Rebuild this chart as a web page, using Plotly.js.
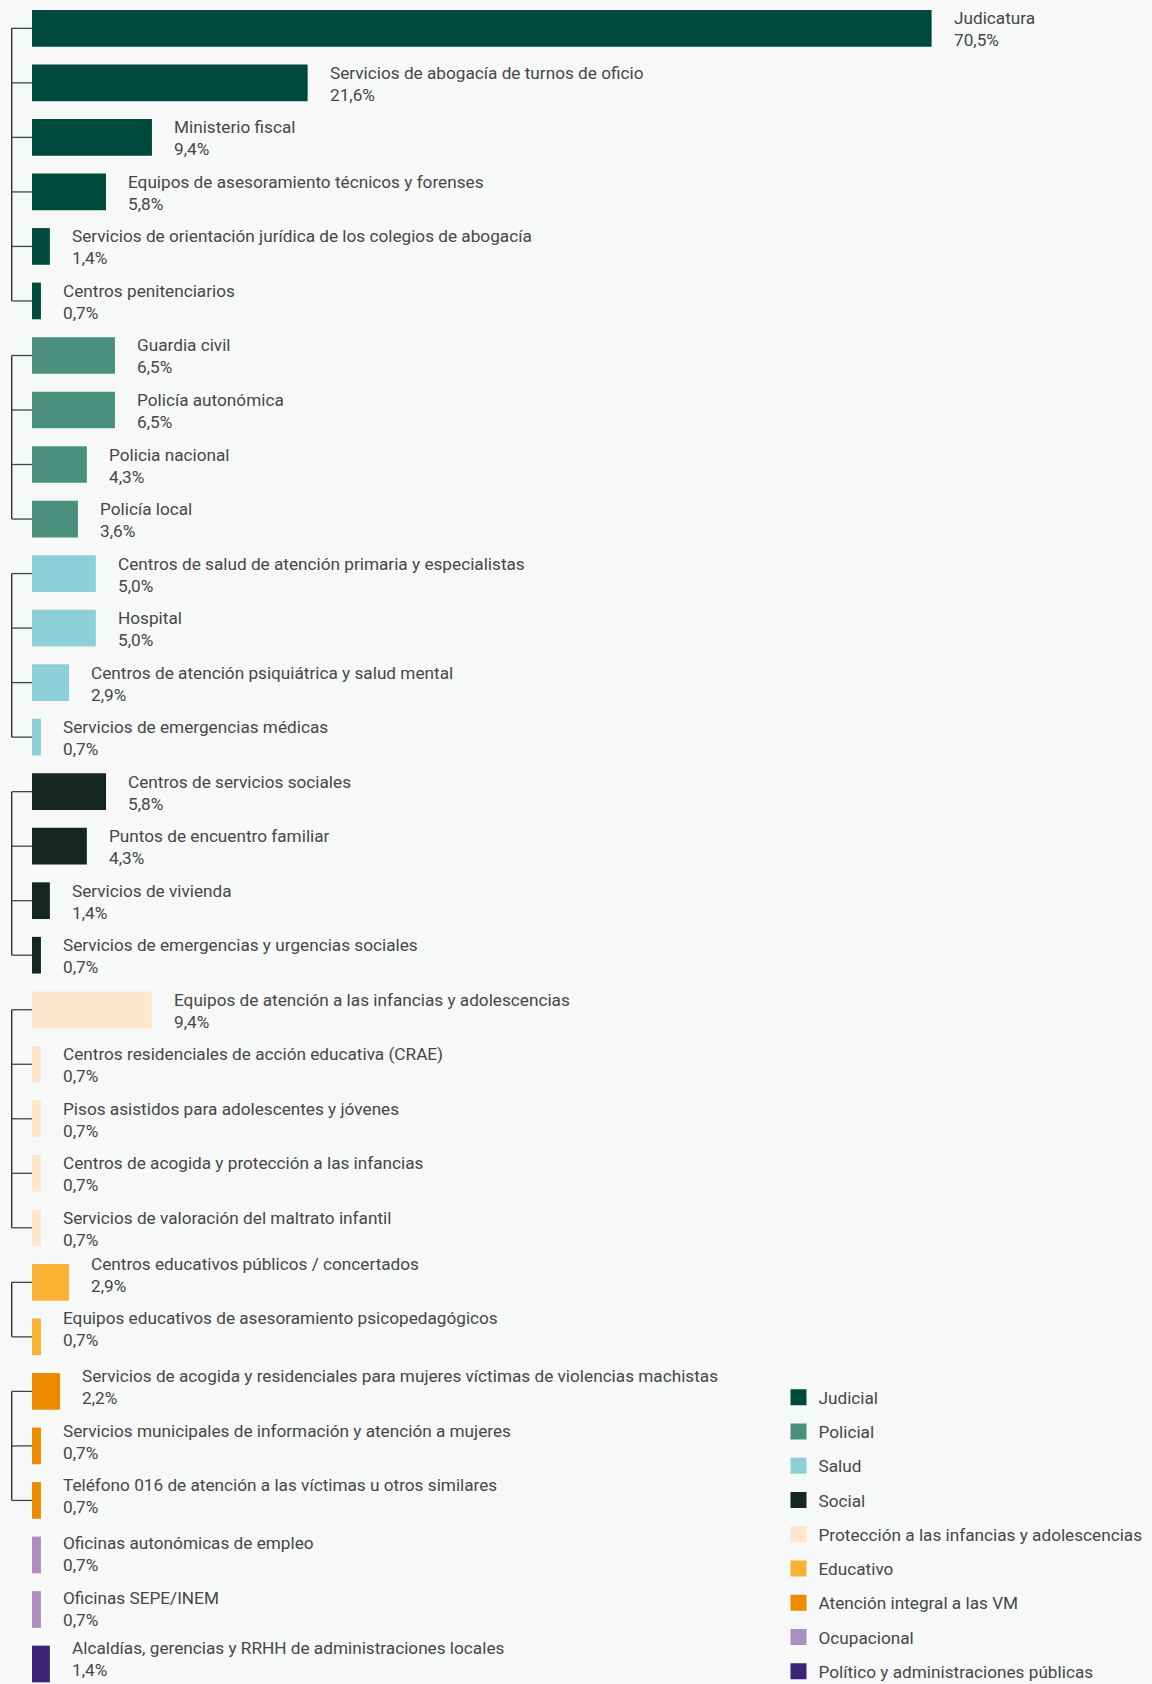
<!DOCTYPE html>
<html>
<head>
<meta charset="utf-8">
<script src="https://cdn.plot.ly/plotly-3.0.1.min.js"></script>
<style>
  html, body { margin: 0; padding: 0; background: #f6f9f8; }
  #chart { width: 1152px; height: 1684px; }
</style>
</head>
<body>
<div id="chart"></div>
<script>
// ---- data ----
const groups = [
  "Judicial",
  "Policial",
  "Salud",
  "Social",
  "Protección a las infancias y adolescencias",
  "Educativo",
  "Atención integral a las VM",
  "Ocupacional",
  "Político y administraciones públicas"
];
const groupBracket = [true, true, true, true, true, true, true, false, false];

const categories = [
  "Judicatura",
  "Servicios de abogacía de turnos de oficio",
  "Ministerio fiscal",
  "Equipos de asesoramiento técnicos y forenses",
  "Servicios de orientación jurídica de los colegios de abogacía",
  "Centros penitenciarios",
  "Guardia civil",
  "Policía autonómica",
  "Policia nacional",
  "Policía local",
  "Centros de salud de atención primaria y especialistas",
  "Hospital",
  "Centros de atención psiquiátrica y salud mental",
  "Servicios de emergencias médicas",
  "Centros de servicios sociales",
  "Puntos de encuentro familiar",
  "Servicios de vivienda",
  "Servicios de emergencias y urgencias sociales",
  "Equipos de atención a las infancias y adolescencias",
  "Centros residenciales de acción educativa (CRAE)",
  "Pisos asistidos para adolescentes y jóvenes",
  "Centros de acogida y protección a las infancias",
  "Servicios de valoración del maltrato infantil",
  "Centros educativos públicos / concertados",
  "Equipos educativos de asesoramiento psicopedagógicos",
  "Servicios de acogida y residenciales para mujeres víctimas de violencias machistas",
  "Servicios municipales de información y atención a mujeres",
  "Teléfono 016 de atención a las víctimas u otros similares",
  "Oficinas autonómicas de empleo",
  "Oficinas SEPE/INEM",
  "Alcaldías, gerencias y RRHH de administraciones locales"
];
const values = [
  70.5, 21.6, 9.4, 5.8, 1.4, 0.7,
  6.5, 6.5, 4.3, 3.6,
  5.0, 5.0, 2.9, 0.7,
  5.8, 4.3, 1.4, 0.7,
  9.4, 0.7, 0.7, 0.7, 0.7,
  2.9, 0.7,
  2.2, 0.7, 0.7,
  0.7, 0.7,
  1.4
];
const groupOf = [
  0, 0, 0, 0, 0, 0,
  1, 1, 1, 1,
  2, 2, 2, 2,
  3, 3, 3, 3,
  4, 4, 4, 4, 4,
  5, 5,
  6, 6, 6,
  7, 7,
  8
];

// ---- styles ----
const groupColors = [
  "#004a3d", "#4a907c", "#8ccfd8", "#15251f", "#fee6cc",
  "#f9b233", "#ee8a00", "#ae8ec0", "#3d2478"
];
const labelNudge = [
  -1,-1,-1,-1,-1,-1, -1,-1,-1,-1, -1,-1,-1,-1, -1,-1,-1,-1, -1,-1,-1,-1,-1,
  7.5, 7.5, 4, 4, 4, 1, 0, 5
];
const FONT = "Roboto, 'Noto Sans', sans-serif";
const FSIZE = 17.2;
const TXT = "#474747";

const fmt = v => v.toFixed(1).replace(".", ",") + "%";

// ---- traces ----
const traces = [];
groups.forEach((g, gi) => {
  const idx = [];
  groupOf.forEach((k, i) => { if (k === gi) idx.push(i); });
  traces.push({
    type: "bar",
    orientation: "h",
    x: idx.map(i => values[i]),
    y: idx.map(i => i),
    width: 0.673,
    marker: { color: groupColors[gi], line: { width: 0 } },
    name: g,
    showlegend: false,
    hoverinfo: "skip"
  });
});
groups.forEach((g, gi) => {
  traces.push({
    type: "scatter",
    mode: "markers",
    x: [null], y: [null],
    name: g,
    legendgroup: "g" + gi,
    marker: { symbol: "square", size: 16, color: groupColors[gi] },
    showlegend: true,
    hoverinfo: "skip"
  });
});

// ---- annotations (labels) ----
const annotations = categories.map((c, i) => ({
  x: values[i], y: i, xref: "x", yref: "y",
  xanchor: "left", yanchor: "middle", align: "left",
  xshift: 20, yshift: labelNudge[i],
  showarrow: false,
  text: c + "<br>" + fmt(values[i]),
  font: { family: FONT, size: FSIZE, color: TXT }
}));

// ---- bracket shapes ----
const shapes = [];
const BX = -1.59;
groups.forEach((g, gi) => {
  if (!groupBracket[gi]) return;
  const idx = [];
  groupOf.forEach((k, i) => { if (k === gi) idx.push(i); });
  shapes.push({
    type: "line", xref: "x", yref: "y",
    x0: BX, x1: BX, y0: idx[0], y1: idx[idx.length - 1],
    line: { color: "#222", width: 1.3 }, layer: "below"
  });
  idx.forEach(i => shapes.push({
    type: "line", xref: "x", yref: "y",
    x0: BX, x1: 0, y0: i, y1: i,
    line: { color: "#444", width: 1.3 }, layer: "below"
  }));
});

const layout = {
  width: 1152, height: 1684,
  margin: { l: 0, r: 0, t: 0, b: 0, pad: 0, autoexpand: false },
  paper_bgcolor: "#f6f9f8",
  plot_bgcolor: "#f6f9f8",
  barmode: "overlay",
  showlegend: true,
  xaxis: { range: [-2.508, 87.77], visible: false, fixedrange: true },
  yaxis: { range: [30.367, -0.52], visible: false, fixedrange: true },
  annotations: annotations,
  shapes: shapes,
  legend: {
    x: 778.5 / 1152, xanchor: "left",
    y: 1 - 1379.5 / 1684, yanchor: "top",
    bgcolor: "rgba(0,0,0,0)",
    borderwidth: 0,
    tracegroupgap: 8.9,
    itemclick: false, itemdoubleclick: false,
    font: { family: FONT, size: FSIZE, color: TXT }
  },
  font: { family: FONT, color: TXT }
};

Plotly.newPlot("chart", traces, layout, { displayModeBar: false, staticPlot: true });
</script>
</body>
</html>
